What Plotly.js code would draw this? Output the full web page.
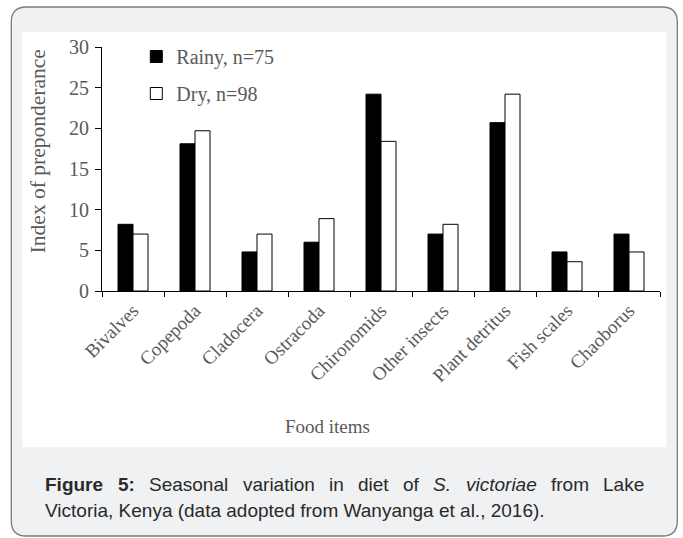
<!DOCTYPE html>
<html><head><meta charset="utf-8">
<script src="https://cdn.plot.ly/plotly-3.0.1.min.js"></script>
<style>html,body{margin:0;padding:0;background:#fff;}#chart{width:683px;height:538px;}</style>
</head><body><div id="chart"></div>
<script>
// ---- data ----
const categories = ["Bivalves","Copepoda","Cladocera","Ostracoda","Chironomids","Other insects","Plant detritus","Fish scales","Chaoborus"];
const rainy = [8.2, 18.1, 4.8, 6.0, 24.2, 7.0, 20.7, 4.8, 7.0];
const dry   = [7.0, 19.7, 7.0, 8.9, 18.4, 8.2, 24.2, 3.6, 4.8];
const seriesNames = ["Rainy, n=75", "Dry, n=98"];
const yTickVals = [0, 5, 10, 15, 20, 25, 30];
const xTitle = "Food items";
const yTitle = "Index of preponderance";
const captionLine1 = [
  {t:"Figure", w:"bold"}, {t:"5:", w:"bold"}, {t:"Seasonal"}, {t:"variation"}, {t:"in"},
  {t:"diet"}, {t:"of"}, {t:"S.", s:"italic"}, {t:"victoriae", s:"italic"}, {t:"from"}, {t:"Lake"}
];
const captionLine2 = "Victoria, Kenya (data adopted from Wanyanga et al., 2016).";

// ---- geometry ----
const W = 683, H = 538;
const L = 101.7, R = 659.7, T = 47, B = 291;
const px = x => (x - L) / (R - L);
const py = y => (B - y) / (B - T);

const serif = "Liberation Serif, Times New Roman, serif";
const sans = "Liberation Sans, Arial, sans-serif";
const gray = "#595959";
const capFont = 19, capColor = "#2a2a2a";

// rounded frame path in paper coords
function roundRect(x0, y0, x1, y1, r) {
  const P = (x, y) => px(x).toFixed(5) + "," + py(y).toFixed(5);
  return "M" + P(x0 + r, y0) + " L" + P(x1 - r, y0) + " Q" + P(x1, y0) + " " + P(x1, y0 + r) +
    " L" + P(x1, y1 - r) + " Q" + P(x1, y1) + " " + P(x1 - r, y1) +
    " L" + P(x0 + r, y1) + " Q" + P(x0, y1) + " " + P(x0, y1 - r) +
    " L" + P(x0, y0 + r) + " Q" + P(x0, y0) + " " + P(x0 + r, y0) + " Z";
}

const shapes = [
  {type:"path", xref:"paper", yref:"paper", path: roundRect(11, 7, 677, 536, 15),
   fillcolor:"#f0f1f3", line:{color:"#7a7a7a", width:1.3}, layer:"below"},
  {type:"rect", xref:"paper", yref:"paper", x0:px(22), x1:px(666), y0:py(32), y1:py(447),
   fillcolor:"#ffffff", line:{width:0}, layer:"below"}
];

// caption line 1 justified word by word
const cv = document.createElement("canvas").getContext("2d");
function measure(word) {
  cv.font = (word.s || "normal") + " " + (word.w || "normal") + " " + capFont + "px 'Liberation Sans'";
  return cv.measureText(word.t).width;
}
const capX0 = 44, capX1 = 643;
const widths = captionLine1.map(measure);
const totalW = widths.reduce((a, b) => a + b, 0);
const gap = (capX1 - capX0 - totalW) / (captionLine1.length - 1);
const annotations = [];
let cx = capX0;
captionLine1.forEach((wd, i) => {
  let txt = wd.t;
  if (wd.w === "bold") txt = "<b>" + txt + "</b>";
  if (wd.s === "italic") txt = "<i>" + txt + "</i>";
  annotations.push({xref:"paper", yref:"paper", x:px(cx), y:py(484), xanchor:"left", yanchor:"middle",
    text: txt, showarrow:false, borderpad:0, font:{family:sans, size:capFont, color:capColor}});
  cx += widths[i] + gap;
});
annotations.push({xref:"paper", yref:"paper", x:px(capX0), y:py(510), xanchor:"left", yanchor:"middle",
  text: captionLine2, showarrow:false, borderpad:0, font:{family:sans, size:capFont, color:capColor}});
annotations.push({xref:"paper", yref:"paper", x:px(327), y:py(426), xanchor:"center", yanchor:"middle",
  text: xTitle, showarrow:false, font:{family:serif, size:19, color:gray}});
annotations.push({xref:"paper", yref:"paper", x:px(38), y:py(151), xanchor:"center", yanchor:"middle",
  text: yTitle, textangle:-90, showarrow:false, font:{family:serif, size:21.5, color:gray}});

const traces = [
  {type:"bar", name:seriesNames[0], x:categories, y:rainy, legendgroup:"a",
   marker:{color:"#000000", line:{color:"#000000", width:1}}},
  {type:"bar", name:seriesNames[1], x:categories, y:dry, legendgroup:"b",
   marker:{color:"#ffffff", line:{color:"#000000", width:1}}}
];

const layout = {
  width: W, height: H,
  margin: {l:L, r:W - R, t:T, b:H - B, pad:0},
  paper_bgcolor:"#ffffff", plot_bgcolor:"#ffffff",
  barmode:"group", bargap:0.516, bargroupgap:0,
  showlegend:true,
  legend:{x:px(136), y:py(37), xanchor:"left", yanchor:"top", bgcolor:"rgba(0,0,0,0)",
    font:{family:serif, size:20, color:gray}, tracegroupgap:8, traceorder:"grouped"},
  xaxis:{type:"category", showline:true, linecolor:"#000", linewidth:1, showgrid:false, zeroline:false,
    ticks:"outside", tickson:"boundaries", ticklen:5, tickcolor:"#000", tickwidth:1,
    tickangle:-45, tickfont:{family:serif, size:19, color:gray}},
  yaxis:{range:[0,30], tickvals:yTickVals, showline:true, linecolor:"#000", linewidth:1, showgrid:false,
    zeroline:false, ticks:"outside", ticklen:6, tickcolor:"#000", tickwidth:1, ticklabelstandoff:2,
    tickfont:{family:serif, size:20, color:gray}},
  shapes: shapes,
  annotations: annotations
};

Plotly.newPlot("chart", traces, layout, {displayModeBar:false, staticPlot:true});
</script>
</body></html>
